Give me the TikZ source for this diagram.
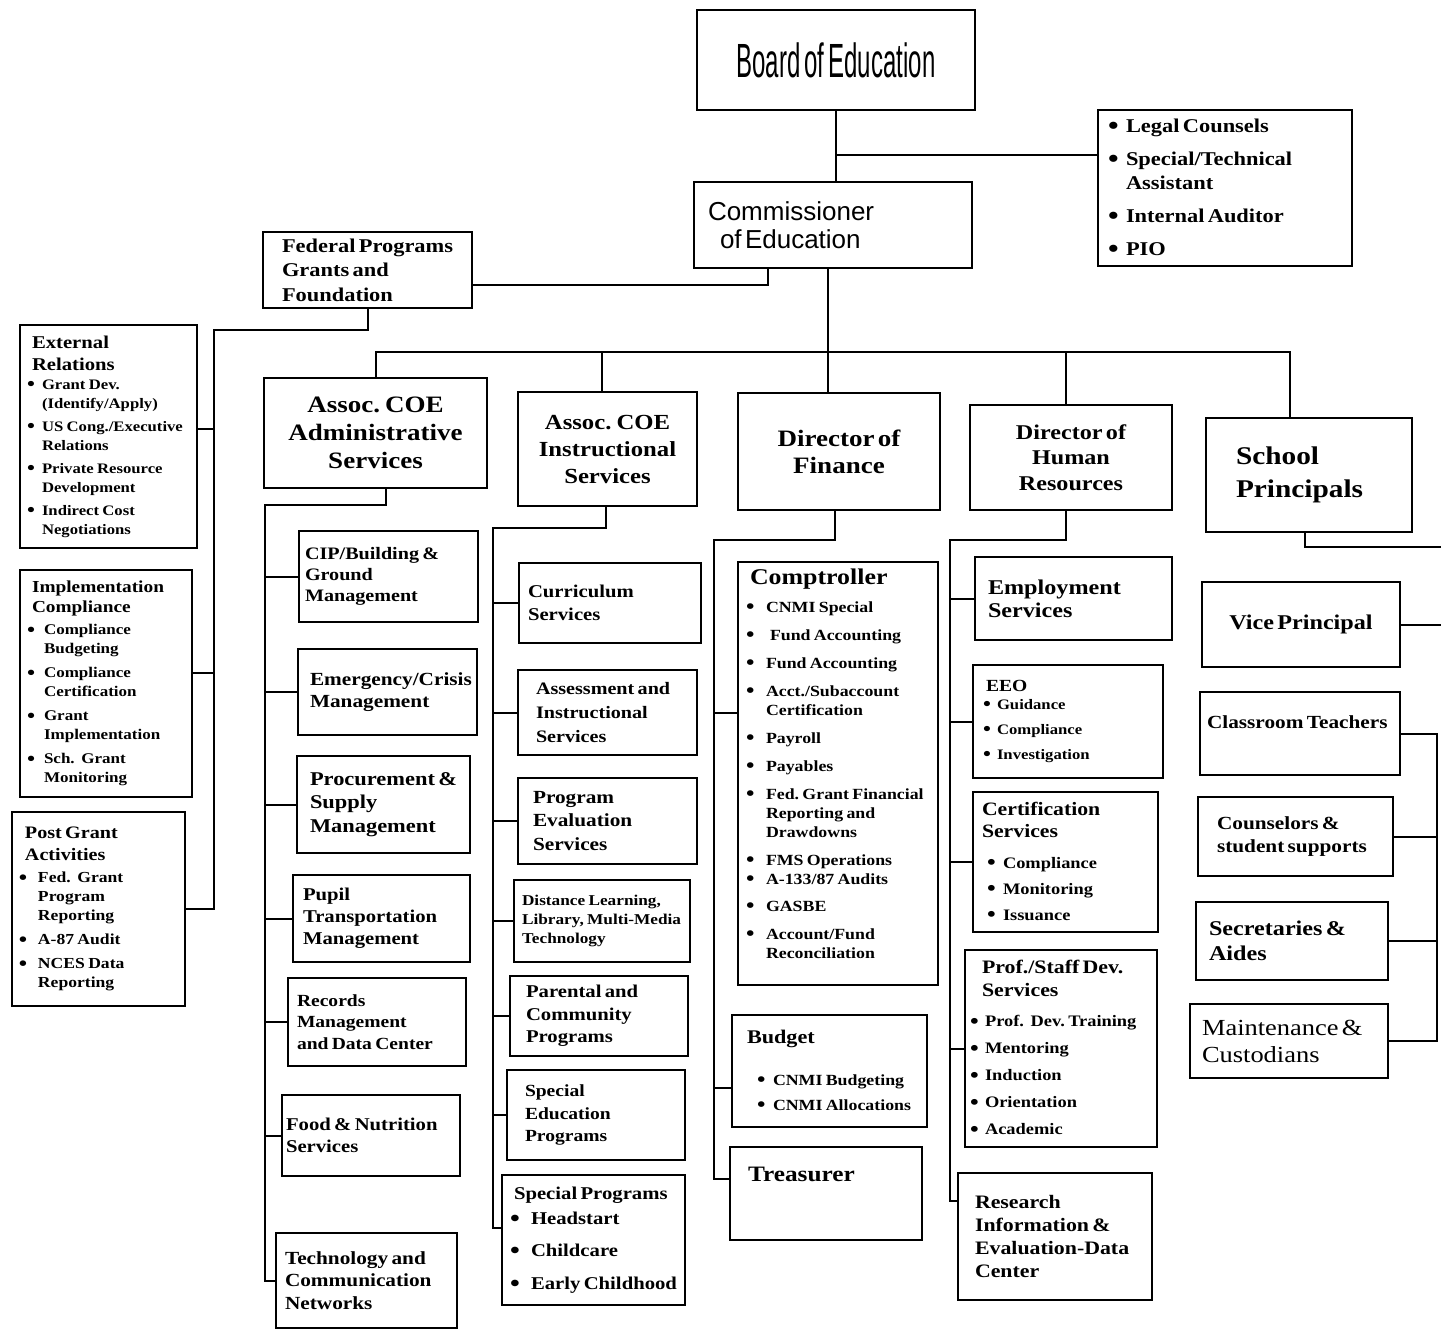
\documentclass[tikz,border=0pt]{standalone}
\usepackage{fontspec}
\setmainfont{Liberation Serif}[FakeStretch=1.15]
\newfontfamily\arialfont{Liberation Sans}
\newlength\bw
\setlength\bw{1.1em}
\newcommand\bl{\makebox[\bw][l]{\raisebox{-0.1em}{\scalebox{1.35}{\textbullet}}}}
\newcommand\ind{\hspace*{\bw}}
\newcommand\lft[1]{\leftskip=#1\relax\rightskip=-300pt plus 1fil\relax}
\newcommand\fsz[2]{\fontsize{#1}{#2}\selectfont}
\tikzset{
  orgbox/.style={draw, line width=1.8pt, inner xsep=0pt, inner ysep=0pt, align=left, font=\bfseries},
  sz/.style 2 args={minimum width=#1pt, minimum height=#2pt, text width=#1pt},
  conn/.style={line width=2pt},
}
\begin{document}
\begin{tikzpicture}[x=1pt,y=-1pt]
  \fill[white] (0,0) rectangle (1441,1330);
  \useasboundingbox (0,0) rectangle (1441,1330);
  % top levels
  \node[orgbox, sz={278}{100}, align=center, font=\arialfont] (board) at (836,60) {\fsz{48}{50}\scalebox{0.5}[1]{Board\hspace{8pt}of\hspace{8pt}Education}\par};
  \node[orgbox, sz={254}{156}] (legal) at (1225,188) {\lft{10pt}\bw=18pt\fsz{19.5}{24}\bl Legal Counsels\\[9pt] \bl Special/Technical\\ \ind Assistant\\[9pt] \bl Internal Auditor\\[9pt] \bl PIO\par};
  \node[orgbox, sz={278}{86}, font=\arialfont] (comm) at (833,225) {\lft{14pt}\fsz{26}{28}Commissioner\\ \hspace*{12pt}of Education\par};
  \node[orgbox, sz={209}{76}] (fed) at (367.5,270) {\lft{19pt}\fsz{19.5}{24.5}Federal Programs\\ Grants and\\ Foundation\par};
  % federal programs
  \node[orgbox, sz={177}{223}] (ext) at (108.5,436.5) {\lft{12pt}\fsz{18}{22}External\\ Relations\par \lft{7pt}\bw=15pt\fsz{14.5}{19}\bl Grant Dev.\\ \ind (Identify/Apply)\\[4pt] \bl US Cong./Executive\\ \ind Relations\\[4pt] \bl Private Resource\\ \ind Development\\[4pt] \bl Indirect Cost\\ \ind Negotiations\par};
  \node[orgbox, sz={172}{227}] (impl) at (106,683.5) {\lft{12pt}\fsz{16.8}{20}Implementation\\ Compliance\par\vskip3pt \lft{7pt}\bw=17pt\fsz{14.8}{19}\bl Compliance\\ \ind Budgeting\\[5pt] \bl Compliance\\ \ind Certification\\[5pt] \bl Grant\\ \ind Implementation\\[5pt] \bl Sch.\ \ Grant\\ \ind Monitoring\par};
  \node[orgbox, sz={173}{194}] (post) at (98.5,909) {\lft{13pt}\fsz{17.5}{22}Post Grant\\ Activities\par\vskip3pt \lft{7pt}\bw=19pt\fsz{15.3}{19}\bl Fed.\ \ Grant\\ \ind Program\\ \ind Reporting\\[5pt] \bl A-87 Audit\\[5pt] \bl NCES Data\\ \ind Reporting\par};
  % second level
  \node[orgbox, sz={223}{110}, align=center] (admin) at (375.5,433) {\fsz{23.5}{28}Assoc. COE\\ Administrative\\ Services\par};
  \node[orgbox, sz={179}{114}, align=center] (instr) at (607.5,449) {\fsz{21.5}{27}Assoc. COE\\ Instructional\\ Services\par};
  \node[orgbox, sz={202}{117}, align=center] (fin) at (839,451.5) {\fsz{23.5}{27}Director of\\ Finance\par};
  \node[orgbox, sz={202}{105}, align=center] (hr) at (1071,457.5) {\fsz{21}{25.5}Director of\\ Human\\ Resources\par};
  \node[orgbox, sz={206}{114}] (sch) at (1309,475) {\lft{30pt}\fsz{25.5}{33}School\\ Principals\par};
  % administrative services
  \node[orgbox, sz={179}{91}] (cip) at (388.5,576.5) {\lft{6pt}\fsz{17.5}{21}CIP/Building \&\\ Ground\\ Management\par};
  \node[orgbox, sz={179}{86}] (emerg) at (387.5,692) {\lft{12pt}\fsz{18.5}{22}Emergency/Crisis\\ Management\par};
  \node[orgbox, sz={173}{97}] (proc) at (383.5,804.5) {\lft{13pt}\fsz{19.5}{23.5}Procurement \&\\ Supply\\ Management\par};
  \node[orgbox, sz={177}{87}] (pupil) at (381.5,918.5) {\lft{10pt}\fsz{18}{22}Pupil\\ Transportation\\ Management\par};
  \node[orgbox, sz={178}{88}] (rec) at (377,1022) {\lft{9pt}\fsz{17}{21.5}Records\\ Management\\ and Data Center\par};
  \node[orgbox, sz={178}{81}] (food) at (371,1135.5) {\lft{4pt}\fsz{18}{22}Food \& Nutrition\\ Services\par};
  \node[orgbox, sz={181}{95}] (tech) at (366.5,1280.5) {\lft{9pt}\fsz{18.5}{22.5}Technology and\\ Communication\\ Networks\par};
  % instructional services
  \node[orgbox, sz={182}{80}] (curr) at (610,603) {\lft{9pt}\fsz{18}{23}Curriculum\\ Services\par};
  \node[orgbox, sz={179}{85}] (assess) at (607.5,712.5) {\lft{18pt}\fsz{17.5}{24}Assessment and\\ Instructional\\ Services\par};
  \node[orgbox, sz={179}{86}] (peval) at (607.5,821) {\lft{15pt}\fsz{18.5}{23.5}Program\\ Evaluation\\ Services\par};
  \node[orgbox, sz={176}{82}] (dist) at (602,921) {\lft{8pt}\fsz{15}{19}Distance Learning,\\ Library, Multi-Media\\ Technology\par};
  \node[orgbox, sz={178}{80}] (parent) at (599,1016) {\lft{16pt}\fsz{18}{22.5}Parental and\\ Community\\ Programs\par};
  \node[orgbox, sz={178}{90}] (sped) at (596,1115) {\lft{18pt}\fsz{17}{22.5}Special\\ Education\\ Programs\par};
  \node[orgbox, sz={183}{130}] (sprog) at (593.5,1240) {\lft{12pt}\fsz{18}{25}Special Programs\par \lft{8pt}\bw=21pt\bl Headstart\\[7pt] \bl Childcare\\[8pt] \bl Early Childhood\par};
  % finance
  \node[orgbox, sz={200}{423}] (comp) at (838,773.5) {\lft{12pt}\fsz{22.5}{26}Comptroller\par\vskip9pt \lft{8pt}\bw=20pt\fsz{15.5}{19}\bl CNMI Special\\[9pt] \bl\hspace*{4pt}Fund Accounting\\[9pt] \bl Fund Accounting\\[9pt] \bl Acct./Subaccount\\ \ind Certification\\[9pt] \bl Payroll\\[9pt] \bl Payables\\[9pt] \bl Fed.\ Grant Financial\\ \ind Reporting and\\ \ind Drawdowns\\[9pt] \bl FMS Operations\\ \bl A-133/87 Audits\\[8pt] \bl GASBE\\[9pt] \bl Account/Fund\\ \ind Reconciliation\par\kern20pt};
  \node[orgbox, sz={195}{112}] (budget) at (829.5,1071) {\lft{15pt}\fsz{19.3}{22}Budget\par\vskip17pt \lft{25pt}\bw=16pt\fsz{15.5}{25}\bl CNMI Budgeting\\ \bl CNMI Allocations\par};
  \node[orgbox, sz={192}{93}] (treas) at (826,1193.5) {\lft{18pt}\fsz{22}{24}Treasurer\\[14pt]\mbox{}\par};
  % human resources
  \node[orgbox, sz={197}{83}] (emp) at (1073.5,598.5) {\lft{13pt}\fsz{21}{23}Employment\\ Services\par};
  \node[orgbox, sz={190}{113}] (eeo) at (1068,721.5) {\lft{13pt}\fsz{17}{20}EEO\par\vskip-7pt \lft{10pt}\bw=14pt\fsz{14.5}{25}\bl Guidance\\ \bl Compliance\\ \bl Investigation\par};
  \node[orgbox, sz={185}{140}] (cert) at (1065.5,862) {\lft{9pt}\fsz{18.9}{22}Certification\\ Services\par\vskip5pt \lft{14pt}\bw=16pt\fsz{16}{26}\bl Compliance\\ \bl Monitoring\\ \bl Issuance\par};
  \node[orgbox, sz={192}{197}] (prof) at (1061,1048.5) {\lft{17pt}\fsz{19}{23}Prof./Staff Dev.\\ Services\par\vskip3pt \lft{5pt}\bw=15pt\fsz{16}{27}\bl Prof.\ \ Dev.\ Training\\ \bl Mentoring\\ \bl Induction\\ \bl Orientation\\ \bl Academic\par};
  \node[orgbox, sz={194}{127}] (res) at (1055,1236.5) {\lft{17pt}\fsz{19}{23}Research\\ Information \&\\ Evaluation-Data\\ Center\par};
  % school principals
  \node[orgbox, sz={198}{85}, align=center] (vp) at (1301,624.5) {\fsz{21}{24}Vice Principal\par};
  \node[orgbox, sz={200}{83}] (ct) at (1300,733.5) {\lft{7pt}\fsz{18.5}{22}Classroom Teachers\\ \mbox{}\par};
  \node[orgbox, sz={195}{79}] (couns) at (1295.5,836.5) {\lft{19pt}\fsz{18.5}{23}Counselors \&\\ student supports\par};
  \node[orgbox, sz={192}{78}] (sec) at (1292,941) {\lft{13pt}\fsz{21}{25}Secretaries \&\\ Aides\par};
  \node[orgbox, sz={198}{74}] (maint) at (1289,1041) {\lft{12pt}\fsz{23}{27}\mdseries Maintenance \&\\ Custodians\par};
  % connectors
  \begin{scope}[conn]
    \coordinate (jl) at (836,155);
    \coordinate (bus) at (0,352);
    \coordinate (cb) at ([xshift=-5pt]comm.south);
    \draw (board) to (board.south |- comm.north);
    \draw (jl) to (jl -| legal.west);
    \draw ([xshift=-65pt]comm.south) |- ([yshift=-15pt]fed.east);
    \draw (cb) to (cb |- fin.north);
    \draw (admin) |- ([xshift=-19pt]sch.north |- bus) -- ([xshift=-19pt]sch.north);
    \draw ([xshift=-6pt]instr.north) -- ([xshift=-6pt]instr.north |- bus);
    \draw ([xshift=-5pt]hr.north) -- ([xshift=-5pt]hr.north |- bus);
    % federal programs tree
    \coordinate (fb) at (214,330);
    \coordinate (e1) at ([yshift=8pt]ext.east);
    \coordinate (i1) at ([yshift=11pt]impl.east);
    \draw (fed) |- (fb) |- (post);
    \draw (e1) -- (e1 -| fb);
    \draw (i1) -- (i1 -| fb);
    % administrative tree
    \coordinate (as) at (265,505);
    \draw ([xshift=10pt]admin.south) |- (as) |- (tech);
    \foreach \n in {cip,emerg,proc,pupil,rec,food}
      \draw (as |- \n.west) -- (\n.west);
    % instructional tree
    \coordinate (is) at (493,528);
    \draw ([xshift=-2pt]instr.south) |- (is) |- ([yshift=12pt]sprog.west);
    \foreach \n in {curr,assess,peval,dist,parent,sped}
      \draw (is |- \n.west) -- (\n.west);
    % finance tree
    \coordinate (fs) at (714,540);
    \coordinate (c1) at ([yshift=61pt]comp.west);
    \coordinate (b1) at ([yshift=-17pt]budget.west);
    \draw ([xshift=-4pt]fin.south) |- (fs) |- ([yshift=15pt]treas.west);
    \draw (c1 -| fs) -- (c1);
    \draw (b1 -| fs) -- (b1);
    % human resources tree
    \coordinate (hs) at (950,540);
    \draw ([xshift=-5pt]hr.south) |- (hs) |- ([yshift=36pt]res.west);
    \foreach \n in {emp,eeo,cert,prof}
      \draw (hs |- \n.west) -- (\n.west);
    % school tree
    \coordinate (sr) at (1441,547);
    \coordinate (ss) at (1437,0);
    \draw ([xshift=-4pt]sch.south) |- (sr);
    \draw (vp) -- (vp.east -| sr);
    \draw (ct) -| (ss |- maint.east) -- (maint);
    \foreach \n in {couns,sec}
      \draw (\n) -- (\n.east -| ss);
  \end{scope}
\end{tikzpicture}
\end{document}
